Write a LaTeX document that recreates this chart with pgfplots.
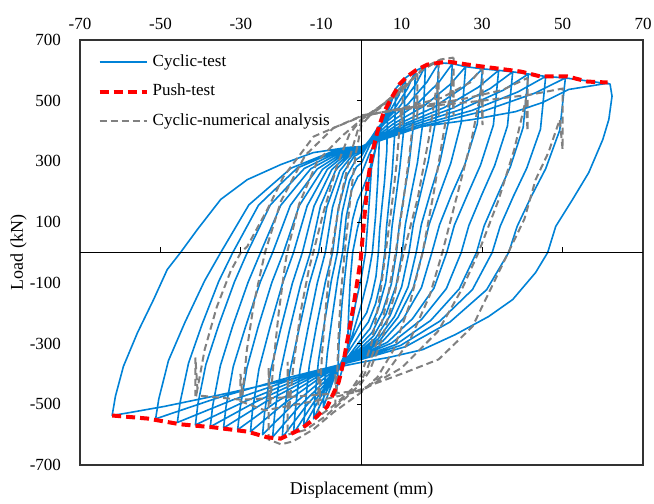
\documentclass[border=0pt]{standalone}
\usepackage{fontspec}
\setmainfont{Liberation Serif}
\usepackage{pgfplots}
\pgfplotsset{compat=1.18}
\definecolor{CycBlue}{RGB}{0,130,215}
\definecolor{NumGray}{RGB}{128,128,128}
\begin{document}
\begin{tikzpicture}
\begin{axis}[
  scale only axis, width=281.5pt, height=212.5pt,
  xmin=-70, xmax=70, ymin=-700, ymax=700,
  xtick={-70,-50,...,70}, xticklabels={-70,-50,-30,-10,10,30,50,70},
  ytick={-700,-500,...,700}, yticklabels={-700,-500,-300,-100,100,300,500,700},
  xticklabel pos=upper,
  tick style={draw=none},
  axis line style={black!80, line width=0.6pt},
  tick label style={font=\fontsize{8.5}{10}\selectfont},
  yticklabel style={xshift=-6pt},
  xticklabel style={yshift=1.5pt},
  xlabel={Displacement (mm)}, ylabel={Load (kN)},
  label style={font=\fontsize{9}{11}\selectfont},
  xlabel style={at={(axis description cs:0.5,0)}, anchor=center, yshift=-12.5pt},
  ylabel style={at={(axis description cs:-0.109,0.5)}, anchor=center},
  legend style={at={(axis description cs:0.02,0.985)}, anchor=north west,
    draw=none, fill=none, font=\fontsize{8.5}{10}\selectfont, row sep=3.3pt},
  legend cell align=left,
  legend image code/.code={\draw[#1] (0pt,0pt) -- (23.5pt,0pt);},
]
\coordinate (fsw) at (rel axis cs:0,0);
\coordinate (fne) at (rel axis cs:1,1);
\addlegendimage{CycBlue, line width=0.8pt}
\addlegendentry{Cyclic-test}
\addlegendimage{red, line width=2pt, dash pattern=on 4.5pt off 2.5pt}
\addlegendentry{Push-test}
\addlegendimage{NumGray, line width=1pt, dash pattern=on 3.5pt off 2pt}
\addlegendentry{Cyclic-numerical analysis}

% cyclic test loops
\addplot[CycBlue, line width=0.8pt, line join=round, forget plot] coordinates {
(2.5,280) (2,180) (1.5,90) (1,0) (0,-80) (-1.5,-170) (-3.5,-320) (-3.2,-200) (-2.8,-90) (-2.2,0) (-1,80) (0,130) (1.2,200) (2.5,280)
(4.5,400) (4.1,250) (3.5,120) (2.7,0) (1.5,-90) (0,-170) (-2,-260) (-4,-350) (-6,-440) (-5.6,-300) (-4.8,-160) (-3.5,0) (-2.2,110) (-1,170) (0,200) (1.5,250) (3,320) (4.5,400)
(6.5,480) (6.3,336) (5.7,230) (5.1,154) (4.5,72) (4.2,0) (3.6,-79) (2.5,-146) (1.3,-198) (0,-225) (-3.3,-311) (-6.7,-410) (-9.5,-510) (-9.3,-449) (-8.5,-332) (-7.3,-214) (-5.9,-87) (-4.7,0) (-3.8,117) (-2.4,208) (-0.9,250) (0,260) (2,326) (3.9,374) (5.5,432) (6.5,480)
(8.5,540) (8.2,378) (7.6,259) (6.9,173) (6.2,81) (5.8,0) (4.9,-91) (3.5,-169) (1.7,-229) (0,-260) (-4.2,-346) (-8.3,-447) (-11.9,-548) (-11.6,-482) (-10.7,-356) (-9.2,-230) (-7.5,-93) (-6,0) (-4.8,133) (-3,236) (-1.2,283) (0,295) (2.6,369) (5.1,422) (7.2,486) (8.5,540)
(10.9,575) (10.5,403) (9.5,276) (8.6,184) (7.6,86) (7,0) (6,-100) (4.2,-185) (2.1,-251) (0,-285) (-5,-372) (-10.1,-474) (-14.4,-575) (-14,-506) (-13,-374) (-11.2,-242) (-9,-98) (-7.2,0) (-5.8,143) (-3.6,254) (-1.4,305) (0,318) (3.3,395) (6.5,452) (9.3,518) (10.9,575)
(13.4,598) (12.9,419) (11.8,287) (10.6,191) (9.4,90) (8.7,0) (7.4,-105) (5.2,-195) (2.6,-264) (0,-300) (-5.9,-389) (-11.8,-492) (-16.9,-596) (-16.5,-524) (-15.3,-387) (-13.3,-250) (-11,-101) (-9,0) (-7.2,149) (-4.5,264) (-1.8,317) (0,330) (4,410) (8,469) (11.4,539) (13.4,598)
(15.9,615) (15.3,431) (13.9,295) (12.4,197) (10.9,92) (10.1,0) (8.6,-109) (6.1,-203) (3,-275) (0,-312) (-6.9,-401) (-13.8,-506) (-19.7,-610) (-19.3,-537) (-17.9,-397) (-15.6,-256) (-13,-104) (-10.7,0) (-8.6,151) (-5.4,269) (-2.1,323) (0,336) (4.8,420) (9.5,481) (13.5,554) (15.9,615)
(19.2,625) (18.5,438) (16.6,300) (14.8,200) (12.9,94) (11.8,0) (10,-112) (7.1,-208) (3.5,-282) (0,-320) (-7.7,-406) (-15.5,-507) (-22.1,-608) (-21.6,-535) (-20.2,-395) (-17.9,-255) (-15.1,-103) (-12.7,0) (-10.2,153) (-6.4,272) (-2.5,326) (0,340) (5.8,426) (11.5,488) (16.3,562) (19.2,625)
(22.6,622) (21.7,435) (19.5,299) (17.2,199) (14.9,93) (13.6,0) (11.6,-113) (8.2,-211) (4.1,-285) (0,-324) (-8.6,-407) (-17.2,-503) (-24.6,-600) (-24.1,-528) (-22.6,-390) (-20.1,-252) (-17.2,-102) (-14.7,0) (-11.8,153) (-7.4,273) (-2.9,327) (0,341) (6.8,425) (13.6,487) (19.2,560) (22.6,622)
(25.9,612) (24.8,428) (22.2,294) (19.5,196) (16.8,92) (15.2,0) (12.9,-115) (9.1,-213) (4.6,-289) (0,-328) (-9.7,-407) (-19.3,-498) (-27.6,-590) (-27.1,-519) (-25.5,-384) (-22.8,-248) (-19.6,-100) (-16.9,0) (-13.5,154) (-8.5,274) (-3.4,328) (0,342) (7.8,423) (15.5,482) (22,553) (25.9,612)
(30.1,605) (28.8,424) (25.7,290) (22.5,194) (19.4,91) (17.5,0) (14.9,-116) (10.5,-216) (5.3,-292) (0,-332) (-10.8,-408) (-21.6,-496) (-30.8,-584) (-30.2,-514) (-28.5,-380) (-25.7,-245) (-22.3,-99) (-19.4,0) (-15.5,154) (-9.7,274) (-3.9,329) (0,343) (9,422) (18.1,479) (25.6,547) (30.1,605)
(34.1,600) (32.8,420) (29.6,288) (26.4,192) (23.1,90) (21.2,0) (18,-118) (12.7,-218) (6.4,-296) (0,-336) (-12,-409) (-24,-493) (-34.3,-578) (-33.7,-509) (-31.9,-376) (-28.8,-243) (-25.2,-98) (-22.1,0) (-17.7,155) (-11,275) (-4.4,330) (0,344) (10.2,421) (20.5,477) (29,544) (34.1,600)
(37.6,595) (36.3,417) (33.1,286) (29.9,190) (26.7,89) (24.8,0) (21.1,-119) (14.9,-221) (7.4,-299) (0,-340) (-13.2,-410) (-26.3,-492) (-37.6,-574) (-37,-505) (-35.1,-373) (-32,-241) (-28.2,-98) (-25.1,0) (-20.1,155) (-12.6,276) (-5,331) (0,345) (11.3,420) (22.6,475) (32,540) (37.6,595)
(41.5,588) (40.2,412) (37,282) (33.8,188) (30.5,88) (28.6,0) (24.3,-120) (17.2,-224) (8.6,-303) (0,-344) (-14.5,-411) (-28.9,-490) (-41.3,-568) (-40.7,-500) (-38.7,-369) (-35.5,-239) (-31.6,-97) (-28.4,0) (-22.7,156) (-14.2,277) (-5.7,332) (0,346) (12.5,419) (24.9,472) (35.3,535) (41.5,588)
(45.8,580) (44.5,406) (41.1,278) (37.8,186) (34.5,87) (32.5,0) (27.6,-122) (19.5,-226) (9.75,-306) (0,-348) (-16,-412) (-32.1,-486) (-45.8,-560) (-45.1,-493) (-43,-364) (-39.6,-235) (-35.5,-95) (-32,0) (-25.6,156) (-16,278) (-6.4,333) (0,347) (13.7,417) (27.5,468) (38.9,529) (45.8,580)
(50.7,575) (49.3,403) (45.8,276) (42.2,184) (38.7,86) (36.6,0) (31.1,-123) (22,-229) (11,-310) (0,-352) (-17.9,-411) (-35.8,-479) (-51.2,-548) (-50.4,-482) (-48,-356) (-43.9,-230) (-39,-93) (-35,0) (-28,157) (-17.5,278) (-7,334) (0,348) (15.2,416) (30.4,466) (43.1,525) (50.7,575)
(61.8,555) (62.3,515) (61.5,438) (60,372) (56.5,263) (52.5,175) (48.3,86) (46.3,0) (43.3,-66) (37.6,-155) (31.6,-211) (23.4,-270) (15.2,-320) (6.7,-346) (1,-359) (-5,-375) (-20,-425) (-37,-474) (-49,-507) (-57.5,-527) (-62,-537) (-61.2,-474) (-59.2,-375) (-55.7,-264) (-51.7,-155) (-48.3,-56) (-45,0) (-40.8,76) (-35,175) (-28.4,240) (-20,290) (-12,329) (-3.5,346) (0,349) (3.5,372) (15,415) (27.6,438) (38.3,464) (45,494) (51.5,537) (61.4,558)
};

% cyclic numerical loops
\addplot[NumGray, line width=1pt, dash pattern=on 3.5pt off 2pt, forget plot] coordinates {
(10.2,550) (10.2,420) (9.8,470) (8.8,300) (7.5,150) (6,0) (4.5,-150) (2.5,-300) (0,-400) (-3,-460) (-6.5,-505) (-6.5,-400) (-6.2,-470) (-5.8,-300) (-5.2,-150) (-4.2,0) (-3,150) (-1.5,320) (0,420) (3,465) (7,505) (10.2,550)
};
\addplot[NumGray, line width=1pt, dash pattern=on 3.5pt off 2pt, forget plot] coordinates {
(13.9,590) (13.9,440) (13.5,520) (12,330) (10.3,160) (8.5,0) (6.5,-150) (4,-290) (1.5,-380) (0,-420) (-4,-470) (-7.5,-510) (-10.7,-540) (-10.7,-385) (-10.4,-480) (-9.8,-330) (-8.8,-170) (-7.5,0) (-5.5,160) (-3,310) (-1,400) (0,430) (4,470) (9,520) (13.9,590)
};
\addplot[NumGray, line width=1pt, dash pattern=on 3.5pt off 2pt, forget plot] coordinates {
(19.2,632) (19.2,450) (18.8,560) (16.8,380) (14,180) (10.5,0) (8,-150) (5,-290) (2,-390) (0,-430) (-4,-480) (-9,-540) (-14,-585) (-18.4,-600) (-18.4,-360) (-18,-520) (-17,-380) (-15.2,-200) (-13,-50) (-12,0) (-9.5,130) (-6,290) (-3,390) (0,440) (5,485) (10,540) (15,600) (19.2,632)
};
\addplot[NumGray, line width=1pt, dash pattern=on 3.5pt off 2pt, forget plot] coordinates {
(22.9,642) (22.9,450) (22.5,560) (20.5,400) (18,200) (15.2,0) (12,-170) (8,-320) (4,-410) (0,-460) (-7,-527) (-12,-583) (-17,-622) (-20,-632) (-23.1,-616) (-23.1,-380) (-22.7,-500) (-21.8,-350) (-20.6,-200) (-19,-40) (-18.5,0) (-15.5,160) (-11,300) (-5,382) (0,438) (4.7,481) (10.4,537) (15.4,609) (19.7,636) (22.9,642)
};
\addplot[NumGray, line width=1pt, dash pattern=on 3.5pt off 2pt, forget plot] coordinates {
(30.1,610) (30.1,420) (29.7,530) (27.5,380) (24,200) (20.1,0) (17,-140) (12,-290) (6,-400) (0,-455) (-8,-480) (-16,-500) (-24,-520) (-30.1,-490) (-30.1,-400) (-29.6,-470) (-28.5,-320) (-26.8,-170) (-24.5,-30) (-24,0) (-20,170) (-14,320) (-7,410) (0,448) (10,475) (20,510) (27,560) (30.1,610)
};
\addplot[NumGray, line width=1pt, dash pattern=on 3.5pt off 2pt, forget plot] coordinates {
(41.3,575) (41.3,400) (40.8,500) (38,340) (34,170) (29.1,0) (25,-120) (19,-260) (10,-380) (0,-455) (-10,-468) (-20,-478) (-30,-485) (-41.3,-470) (-41.3,-346) (-40.8,-450) (-39,-320) (-36,-180) (-32.5,-60) (-30,0) (-28.4,20) (-23.4,142) (-19.4,250) (-11.9,382) (0,450) (12,478) (25,505) (35,535) (41.3,575)
};
\addplot[NumGray, line width=1pt, dash pattern=on 3.5pt off 2pt, forget plot] coordinates {
(0,452) (15,480) (30,500) (42,520) (50,540) (50,340) (49.3,438) (46.5,330) (43.3,240) (40.5,110) (37.6,30) (34.1,-66) (27.6,-244) (19.2,-352) (10.9,-395) (2.7,-435) (-1.5,-458)
};

% centre lines with their small ticks
\draw[black, line width=0.8pt] (axis cs:0,-700) -- (axis cs:0,700);
\draw[black, line width=0.8pt] (axis cs:-70,0) -- (axis cs:70,0);
\draw[black, line width=0.6pt] (axis cs:-50,0) -- ++(0pt,2.5pt);
\draw[black, line width=0.6pt] (axis cs:-30,0) -- ++(0pt,2.5pt);
\draw[black, line width=0.6pt] (axis cs:-10,0) -- ++(0pt,2.5pt);
\draw[black, line width=0.6pt] (axis cs:10,0) -- ++(0pt,2.5pt);
\draw[black, line width=0.6pt] (axis cs:30,0) -- ++(0pt,2.5pt);
\draw[black, line width=0.6pt] (axis cs:50,0) -- ++(0pt,2.5pt);
\draw[black, line width=0.6pt] (axis cs:0,-500) -- ++(-2.5pt,0pt);
\draw[black, line width=0.6pt] (axis cs:0,-300) -- ++(-2.5pt,0pt);
\draw[black, line width=0.6pt] (axis cs:0,-100) -- ++(-2.5pt,0pt);
\draw[black, line width=0.6pt] (axis cs:0,100) -- ++(-2.5pt,0pt);
\draw[black, line width=0.6pt] (axis cs:0,300) -- ++(-2.5pt,0pt);
\draw[black, line width=0.6pt] (axis cs:0,500) -- ++(-2.5pt,0pt);

% push test
\addplot[red, line width=2pt, dash pattern=on 4.5pt off 2.5pt, forget plot] coordinates {
(-62,-537) (-53.2,-547) (-45,-566) (-36.8,-576) (-28.4,-590) (-23.4,-609) (-20.1,-613) (-15.2,-583) (-11.9,-550) (-8.5,-507) (-5.7,-428) (-4.5,-362) (-2,-178) (-0.2,-23) (0.6,100) (1.5,230) (2.7,330) (4,400) (5.5,460) (7.5,510) (9.5,555) (11.4,580) (13.5,600) (16.4,619) (21.4,629) (26.4,619) (32.1,609) (39.6,596) (44.5,580) (51.2,580) (56.2,563) (61.2,560)
};
\end{axis}
\pgfresetboundingbox
\path ([shift={(-40pt,-19.5pt)}]fsw) rectangle ([shift={(5.5pt,20pt)}]fne);
\end{tikzpicture}
\end{document}
